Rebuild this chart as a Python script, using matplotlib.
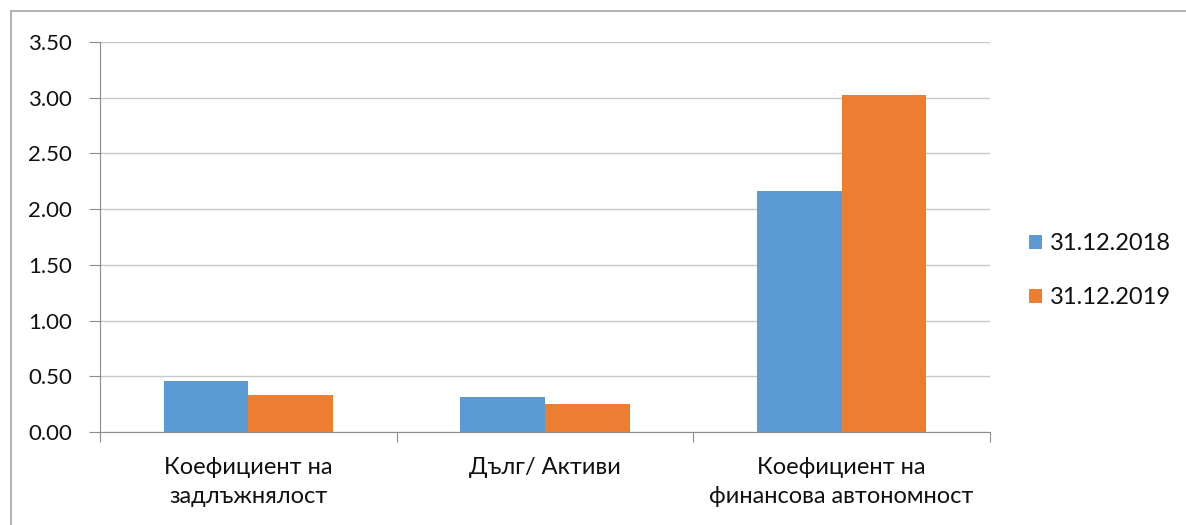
import numpy as np
import matplotlib.pyplot as plt
from matplotlib.patches import Rectangle

categories = ["Коефициент на\nзадлъжнялост", "Дълг/ Активи", "Коефициент на\nфинансова автономност"]
series_names = ["31.12.2018", "31.12.2019"]
values_2018 = [0.46, 0.31, 2.16]
values_2019 = [0.33, 0.25, 3.02]
yticks = [0.0, 0.5, 1.0, 1.5, 2.0, 2.5, 3.0, 3.5]

plt.rcParams['font.family'] = ['Lato', 'DejaVu Sans']

fig = plt.figure(figsize=(11.86, 5.25), dpi=100)
ax = fig.add_axes([100 / 1186, 1 - 432 / 525, 890 / 1186, 390 / 525])

# outer chart border
fig.patches.append(Rectangle((11 / 1186, -0.1), 1.2, 1 - 11 / 525 + 0.1,
                             transform=fig.transFigure, fill=False,
                             edgecolor="#a6a6a6", linewidth=1.2))

x = np.arange(len(categories))
w = 0.285
ax.bar(x - w / 2, values_2018, w, color="#5B9BD5", label=series_names[0], zorder=3)
ax.bar(x + w / 2, values_2019, w, color="#ED7D31", label=series_names[1], zorder=3)

ax.set_xlim(-0.5, len(categories) - 0.5)
ax.set_ylim(0, 3.5)
ax.set_yticks(yticks)
ax.set_yticklabels([f"{v:.2f}" for v in yticks], fontsize=16, color="#111111")
ax.yaxis.grid(True, color="#c8c8c8", linewidth=1.0, zorder=0)

ax.set_xticks(np.arange(-0.5, len(categories), 1.0))
ax.set_xticklabels([])
ax.set_xticks(x, minor=True)
ax.set_xticklabels(categories, minor=True, fontsize=17, linespacing=1.45, color="#111111")
ax.tick_params(axis="x", which="minor", length=0, pad=18)
ax.tick_params(axis="x", which="major", length=7, color="#8c8c8c", direction="out")
ax.tick_params(axis="y", length=8, color="#8c8c8c", direction="out", pad=12)

for s in ["top", "right"]:
    ax.spines[s].set_visible(False)
ax.spines["left"].set_color("#8c8c8c")
ax.spines["bottom"].set_color("#8c8c8c")

ax.legend(loc="center left", bbox_to_anchor=(1.02, 0.413), frameon=False,
          fontsize=17, handlelength=0.55, handleheight=0.55, handletextpad=0.35,
          labelspacing=1.4, labelcolor="#111111")

fig.savefig("out.png", dpi=100)
